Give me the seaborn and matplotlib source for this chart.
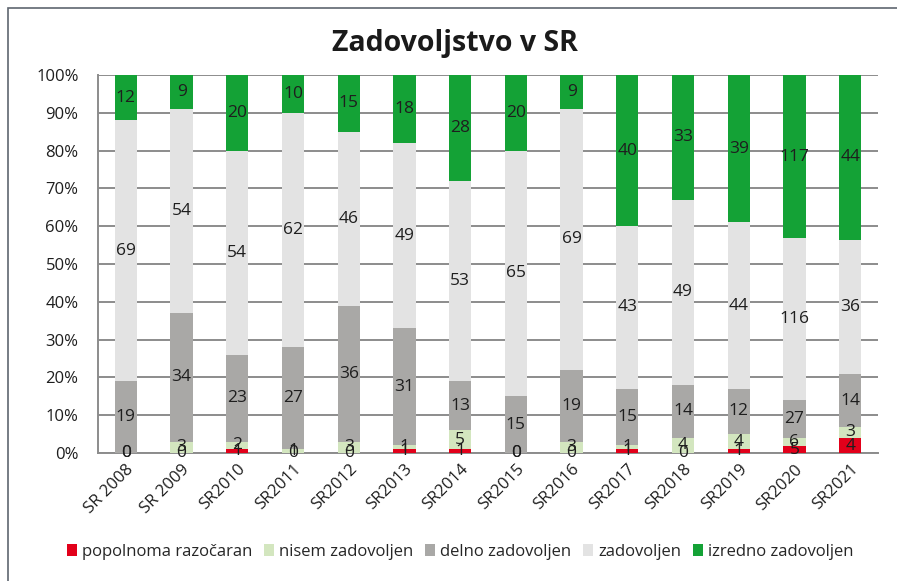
import matplotlib
matplotlib.use("Agg")
import matplotlib.pyplot as plt
from matplotlib.patches import Rectangle, Patch
import numpy as np
import pandas as pd
import seaborn as sns

years = ["SR 2008", "SR 2009", "SR2010", "SR2011", "SR2012", "SR2013", "SR2014",
         "SR2015", "SR2016", "SR2017", "SR2018", "SR2019", "SR2020", "SR2021"]
popolnoma_razocaran = [0, 0, 1, 0, 0, 1, 1, 0, 0, 1, 0, 1, 5, 4]
nisem_zadovoljen = [0, 3, 2, 1, 3, 1, 5, 0, 3, 1, 4, 4, 6, 3]
delno_zadovoljen = [19, 34, 23, 27, 36, 31, 13, 15, 19, 15, 14, 12, 27, 14]
zadovoljen = [69, 54, 54, 62, 46, 49, 53, 65, 69, 43, 49, 44, 116, 36]
izredno_zadovoljen = [12, 9, 20, 10, 15, 18, 28, 20, 9, 40, 33, 39, 117, 44]

series_names = ["popolnoma razočaran", "nisem zadovoljen", "delno zadovoljen",
                "zadovoljen", "izredno zadovoljen"]
series_values = [popolnoma_razocaran, nisem_zadovoljen, delno_zadovoljen,
                 zadovoljen, izredno_zadovoljen]
colors = ["#E2001A", "#D3E6BF", "#A9A8A6", "#E3E3E3", "#14A236"]

sns.set_theme(style="white")
plt.rcParams["font.family"] = ["Open Sans", "DejaVu Sans"]

counts = np.array(series_values, dtype=float)
pct = counts / counts.sum(axis=0) * 100
cum = np.cumsum(pct, axis=0)

fig = plt.figure(figsize=(8.97, 5.81), dpi=100)
ax = fig.add_axes([98 / 897, 1 - 453 / 581, (878 - 98) / 897, (453 - 75) / 581])

# stacked bars: draw cumulative heights from the top layer downwards
for i in range(len(series_names) - 1, -1, -1):
    df = pd.DataFrame({"year": years, "value": cum[i]})
    sns.barplot(data=df, x="year", y="value", order=years, color=colors[i],
                width=0.4, saturation=1, ax=ax, zorder=3, edgecolor="none",
                linewidth=0)

# value labels centred in each segment
for i in range(len(series_names)):
    for j in range(len(years)):
        y = cum[i, j] - pct[i, j] / 2
        ax.text(j, y, f"{int(series_values[i][j])}", ha="center", va="center",
                fontsize=12.5, color="#1e1e1e", zorder=5)

ax.set_ylim(0, 100)
ax.set_xlim(-0.5, len(years) - 0.5)
ax.set_yticks(np.arange(0, 101, 10))
ax.set_yticklabels([f"{v}%" for v in range(0, 101, 10)], fontsize=12)
ax.yaxis.grid(True, color="#8C8C8C", linewidth=1.4, zorder=0)
ax.set_axisbelow(True)
ax.set_xlabel("")
ax.set_ylabel("")
for s in ["top", "right"]:
    ax.spines[s].set_visible(False)
ax.spines["left"].set_color("#8C8C8C")
ax.spines["left"].set_linewidth(1.4)
ax.spines["bottom"].set_color("#8C8C8C")
ax.spines["bottom"].set_linewidth(1.4)
ax.tick_params(axis="y", length=0, pad=14, colors="#1e1e1e")
ax.tick_params(axis="x", length=0, pad=6, colors="#1e1e1e")
plt.setp(ax.get_xticklabels(), rotation=45, ha="right", rotation_mode="anchor",
         fontsize=12)

fig.text(0.507, 1 - 44 / 581, "Zadovoljstvo v SR", ha="center", va="center",
         fontsize=20.5, fontweight="bold", color="#1a1a1a")

handles = [Patch(facecolor=c, edgecolor="none") for c in colors]
fig.legend(handles, series_names, loc="center", bbox_to_anchor=(0.513, 1 - 552 / 581),
           ncol=5, frameon=False, fontsize=12, handlelength=0.6, handleheight=0.7,
           handletextpad=0.3, columnspacing=0.7)

fig.patches.append(Rectangle((8 / 897, -0.05), 1.0, 1 - 8 / 581 + 0.05,
                             transform=fig.transFigure, fill=False,
                             edgecolor="#5F6670", linewidth=1.2))

fig.savefig("out.png", dpi=100)
